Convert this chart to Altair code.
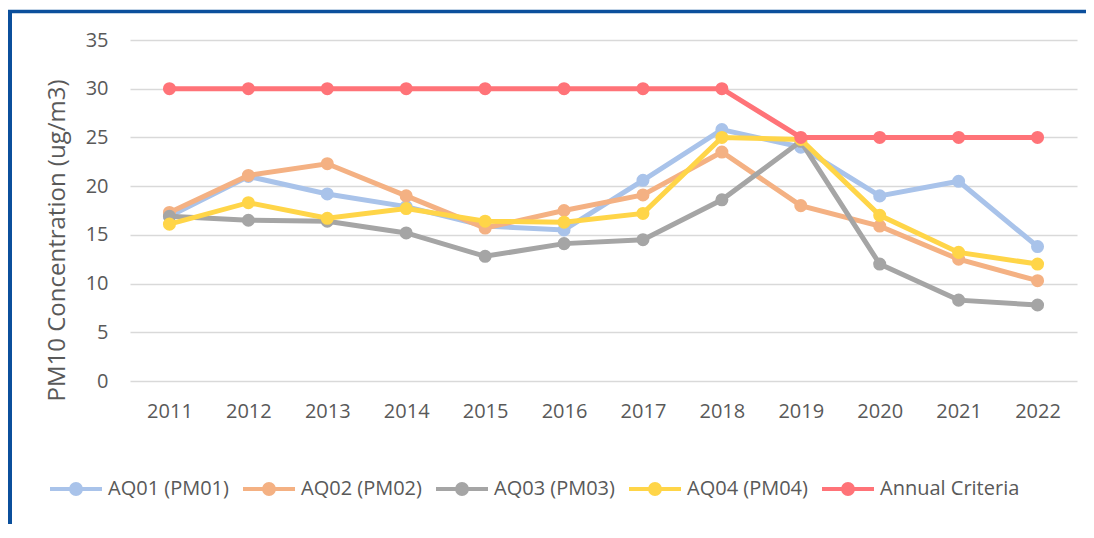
import altair as alt
import pandas as pd

years = [str(y) for y in range(2011, 2023)]
series_names = ["AQ01 (PM01)", "AQ02 (PM02)", "AQ03 (PM03)", "AQ04 (PM04)", "Annual Criteria"]
aq01 = [16.9, 21.0, 19.2, 17.9, 15.9, 15.5, 20.6, 25.8, 24.0, 19.0, 20.5, 13.8]
aq02 = [17.3, 21.1, 22.3, 19.0, 15.7, 17.5, 19.1, 23.5, 18.0, 15.9, 12.5, 10.3]
aq03 = [16.9, 16.5, 16.4, 15.2, 12.8, 14.1, 14.5, 18.6, 24.6, 12.0, 8.3, 7.8]
aq04 = [16.1, 18.3, 16.7, 17.7, 16.4, 16.3, 17.2, 25.0, 24.8, 17.0, 13.2, 12.0]
criteria = [30, 30, 30, 30, 30, 30, 30, 30, 25, 25, 25, 25]
colors = ["#A9C3EA", "#F4B183", "#A5A5A5", "#FFD548", "#FF7378"]

rows = []
for name, vals in zip(series_names, [aq01, aq02, aq03, aq04, criteria]):
    for y, v in zip(years, vals):
        rows.append({"year": y, "value": v, "series": name})
df = pd.DataFrame(rows)

FONT = "Open Sans"
GRAY = "#595959"

color_scale = alt.Scale(domain=series_names, range=colors)

x_enc = alt.X("year:O", scale=alt.Scale(type="point", padding=0.5),
              axis=alt.Axis(title=None, labelAngle=0, ticks=False, domain=False,
                            labelPadding=20, labelFontSize=20, labelColor=GRAY, labelFont=FONT))
y_enc = alt.Y("value:Q", scale=alt.Scale(domain=[0, 35]),
              axis=alt.Axis(values=[0, 5, 10, 15, 20, 25, 30, 35], title="PM10 Concentration (ug/m3)",
                            ticks=False, domain=False, labelPadding=22, labelFontSize=20,
                            labelColor=GRAY, labelFont=FONT, gridColor="#D9D9D9", gridWidth=1.5,
                            titleFontSize=24, titleFont=FONT, titleColor=GRAY, titleFontWeight="normal",
                            titleX=-61, titleY=200))

legend = alt.Legend(title=None, orient="none", direction="horizontal", legendX=-82, legendY=421,
                    symbolType="M-1,0L1,0M-0.19,0A0.19,0.19,0,1,1,0.19,0A0.19,0.19,0,1,1,-0.19,0Z",
                    symbolSize=2704, symbolStrokeWidth=4, labelFontSize=20, labelFont=FONT,
                    labelColor=GRAY, labelOffset=4, columnPadding=6, symbolOpacity=1)

layers = []
for name in series_names:
    base = alt.Chart(df).transform_filter(alt.datum.series == name)
    color = alt.Color("series:N", scale=color_scale, legend=legend, sort=series_names)
    layers.append(base.mark_line(strokeWidth=5).encode(x=x_enc, y=y_enc, color=color))
    layers.append(base.mark_point(filled=True, size=170, opacity=1).encode(x=x_enc, y=y_enc, color=color))

frame_data = alt.Data(values=[{"k": 1}])
frame_left = alt.Chart(frame_data).mark_rule(color="#0B4F9C", strokeWidth=4).encode(
    x=alt.value(-120), y=alt.value(-30), y2=alt.value(600))
frame_top = alt.Chart(frame_data).mark_rule(color="#0B4F9C", strokeWidth=3.5).encode(
    x=alt.value(-122), x2=alt.value(1000), y=alt.value(-28.5))

chart = alt.layer(frame_left, frame_top, *layers).properties(
    width=947, height=341,
    autosize=alt.AutoSizeParams(type="none"),
    padding={"left": 122, "top": 32, "right": 9, "bottom": 143},
    background="white",
).configure_view(stroke=None)

chart.save("out.html", embed_options={"renderer": "svg", "actions": False})
